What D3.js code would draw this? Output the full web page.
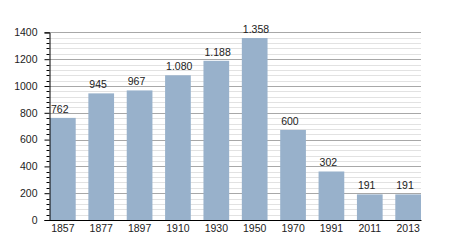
<!DOCTYPE html>
<html>
<head>
<meta charset="utf-8">
<script src="https://cdn.jsdelivr.net/npm/d3@7"></script>
<style>
  html, body { margin: 0; padding: 0; background: #fff; }
  svg { display: block; font-family: "Liberation Sans", Arial, sans-serif; }
</style>
</head>
<body>
<svg id="chart" width="450" height="250"></svg>
<script>
const years = ["1857", "1877", "1897", "1910", "1930", "1950", "1970", "1991", "2011", "2013"];
const values = [762, 945, 967, 1080, 1188, 1358, 672, 362, 191, 191];
const valueLabels = ["762", "945", "967", "1.080", "1.188", "1.358", "600", "302", "191", "191"];
const yTicks = [0, 200, 400, 600, 800, 1000, 1200, 1400];

(function () {
const svg = d3.select("#chart");
const mLeft = 49.5, mRight = 421, mTop = 32.4, mBottom = 220;

const x = d3.scaleBand().domain(years).range([50, 421]).paddingInner(0.33).paddingOuter(0);
const y = d3.scaleLinear().domain([0, 1400]).range([mBottom, mTop]);

// minor gridlines
const minor = d3.range(0, 1401, 40).filter(v => v % 200 !== 0);
svg.append("g").selectAll("line").data(minor).join("line")
  .attr("x1", mLeft).attr("x2", mRight)
  .attr("y1", d => Math.round(y(d)) + 0.5).attr("y2", d => Math.round(y(d)) + 0.5)
  .attr("stroke", "#e2e2e2").attr("stroke-width", 1);
// major gridlines
svg.append("g").selectAll("line").data(yTicks.filter(v => v > 0)).join("line")
  .attr("x1", mLeft).attr("x2", mRight)
  .attr("y1", d => Math.round(y(d)) + 0.5).attr("y2", d => Math.round(y(d)) + 0.5)
  .attr("stroke", "#a8a8a8").attr("stroke-width", 1);

// bars
svg.append("g").selectAll("rect").data(values).join("rect")
  .attr("x", (d, i) => x(years[i]))
  .attr("width", x.bandwidth())
  .attr("y", d => y(d))
  .attr("height", d => y(0) - y(d))
  .attr("fill", "#98b1cb");

// value labels
svg.append("g").selectAll("text").data(values).join("text")
  .attr("x", (d, i) => x(years[i]) + 1)
  .attr("y", d => y(d) - 5)
  .attr("font-size", 10.5)
  .attr("fill", "#222")
  .text((d, i) => valueLabels[i]);

// y axis
const yAxis = d3.axisLeft(y).tickValues(yTicks).tickSize(5).tickFormat(d3.format("d"));
const gy = svg.append("g").attr("transform", `translate(${mLeft},0)`).call(yAxis);
gy.select(".domain").attr("stroke", "#000");
gy.selectAll(".tick line").attr("stroke", "#000");
gy.selectAll(".tick text").attr("font-size", 10.5).attr("fill", "#222").attr("x", -12).attr("font-family", "Liberation Sans, Arial, sans-serif");
// minor ticks
svg.append("g").selectAll("line").data(minor).join("line")
  .attr("x1", mLeft - 3).attr("x2", mLeft)
  .attr("y1", d => Math.round(y(d)) + 0.5).attr("y2", d => Math.round(y(d)) + 0.5)
  .attr("stroke", "#000");

// x axis
const xAxis = d3.axisBottom(x).tickSize(0).tickPadding(4.5);
const gx = svg.append("g").attr("transform", `translate(0,${mBottom})`).call(xAxis);
gx.select(".domain").attr("d", `M${mLeft},0.5H${mRight + 0.5}`).attr("stroke", "#000");
gx.selectAll(".tick text").attr("font-size", 10.5).attr("fill", "#222").attr("font-family", "Liberation Sans, Arial, sans-serif");
})();
</script>
</body>
</html>
